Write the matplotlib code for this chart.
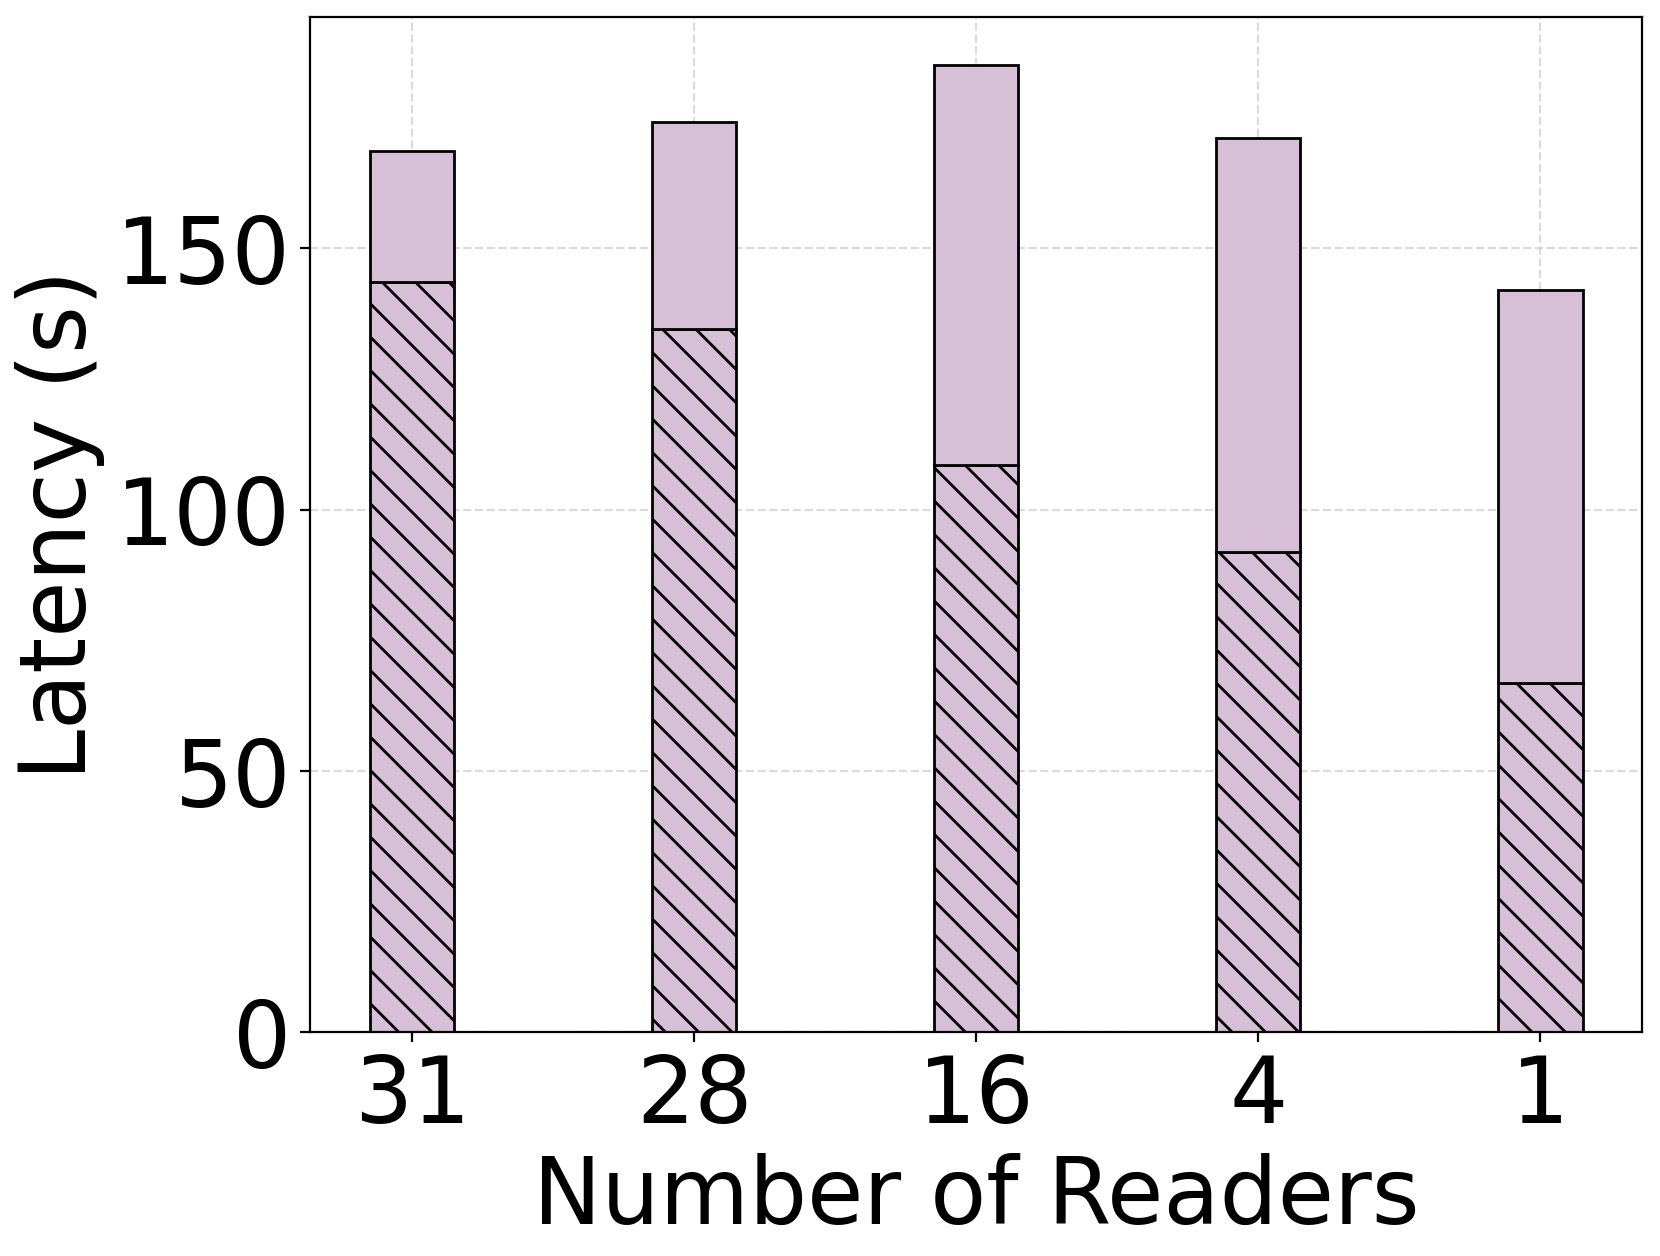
import numpy as np
import matplotlib
matplotlib.use("Agg")
import matplotlib.pyplot as plt

# Data
readers = ["31", "28", "16", "4", "1"]
hatched_part = [143.5, 134.6, 108.5, 91.9, 66.8]
total_latency = [168.6, 174.1, 185.0, 171.1, 142.1]

upper_part = [t - h for t, h in zip(total_latency, hatched_part)]

color = "#D8BFD8"
x = np.arange(len(readers))

fig, ax = plt.subplots(figsize=(8.3, 6.28), dpi=200)
ax.bar(x, hatched_part, width=0.3, color=color, edgecolor="black", hatch="\\\\", zorder=2)
ax.bar(x, upper_part, width=0.3, bottom=hatched_part, color=color, edgecolor="black", zorder=2)

ax.set_xticks(x)
ax.set_xticklabels(readers, fontsize=33)
ax.tick_params(axis="y", labelsize=33)
ax.set_yticks([0, 50, 100, 150])
ax.set_xlim(-0.36, 4.36)
ax.set_ylim(0, max(total_latency) * 1.05)
ax.set_xlabel("Number of Readers", fontsize=33)
ax.set_ylabel("Latency (s)", fontsize=33)
ax.grid(True, linestyle="--", color="lightgray", alpha=0.8, zorder=3)

plt.subplots_adjust(left=0.187, right=0.989, top=0.9865, bottom=0.178)
plt.savefig("out.png", dpi=200)
